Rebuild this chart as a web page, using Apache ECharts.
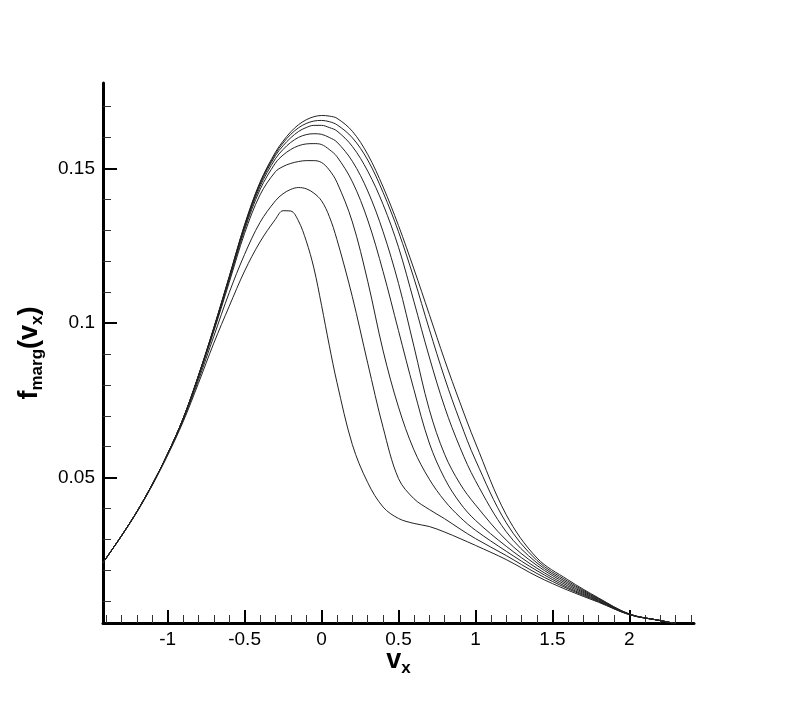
<!DOCTYPE html>
<html>
<head>
<meta charset="utf-8">
<script src="https://cdn.jsdelivr.net/npm/echarts@6/dist/echarts.min.js"></script>
<style>
html,body{margin:0;padding:0;background:#fff;}
#chart{width:789px;height:702px;}
</style>
</head>
<body>
<div id="chart"></div>
<script>
// ---- data ----
const vx = [-1.42, -1.3, -1.2, -1.1, -1.0, -0.9, -0.8, -0.7, -0.6, -0.5, -0.4, -0.3, -0.25, -0.2, -0.15, -0.1, -0.05, 0, 0.05, 0.1, 0.2, 0.3, 0.4, 0.5, 0.6, 0.7, 0.8, 0.9, 1.0, 1.2, 1.4, 1.6, 1.8, 2.0, 2.2, 2.3];

const f1 = [0.0225, 0.0312, 0.0390, 0.0478, 0.0577, 0.0690, 0.0830, 0.0985, 0.1150, 0.1318, 0.1455, 0.1552, 0.1588, 0.1618, 0.1641, 0.1657, 0.1667, 0.1671, 0.1669, 0.1662, 0.1620, 0.1545, 0.1440, 0.1315, 0.1175, 0.1028, 0.0880, 0.0742, 0.0612, 0.0380, 0.0240, 0.0170, 0.0111, 0.0059, 0.0038, 0.0028];
const f2 = [0.0225, 0.0312, 0.0390, 0.0478, 0.0577, 0.0690, 0.0830, 0.0984, 0.1149, 0.1316, 0.1452, 0.1547, 0.1582, 0.1610, 0.1631, 0.1645, 0.1653, 0.1655, 0.1651, 0.1641, 0.1599, 0.1527, 0.1422, 0.1295, 0.1145, 0.0980, 0.0822, 0.0682, 0.0557, 0.0354, 0.0232, 0.0165, 0.0109, 0.0059, 0.0038, 0.0028];
const f3 = [0.0225, 0.0312, 0.0390, 0.0478, 0.0577, 0.0690, 0.0829, 0.0983, 0.1147, 0.1313, 0.1448, 0.1541, 0.1573, 0.1599, 0.1619, 0.1632, 0.1639, 0.1639, 0.1632, 0.1621, 0.1571, 0.1491, 0.1383, 0.1245, 0.1070, 0.0890, 0.0728, 0.0597, 0.0490, 0.0325, 0.0224, 0.0160, 0.0107, 0.0058, 0.0038, 0.0028];
const f4 = [0.0225, 0.0312, 0.0390, 0.0478, 0.0577, 0.0690, 0.0828, 0.0981, 0.1144, 0.1308, 0.1441, 0.1531, 0.1561, 0.1584, 0.1600, 0.1609, 0.1612, 0.1610, 0.1600, 0.1585, 0.1523, 0.1427, 0.1295, 0.1128, 0.0925, 0.0720, 0.0575, 0.0480, 0.0412, 0.0298, 0.0216, 0.0155, 0.0105, 0.0058, 0.0038, 0.0028];
const f5 = [0.0225, 0.0312, 0.0390, 0.0478, 0.0577, 0.0690, 0.0827, 0.0978, 0.1139, 0.1301, 0.1431, 0.1517, 0.1543, 0.1561, 0.1573, 0.1579, 0.1580, 0.1577, 0.1561, 0.1538, 0.1457, 0.1333, 0.1166, 0.0975, 0.0785, 0.0612, 0.0497, 0.0418, 0.0362, 0.0278, 0.0207, 0.0150, 0.0103, 0.0058, 0.0038, 0.0028];
const f6 = [0.0225, 0.0312, 0.0390, 0.0478, 0.0577, 0.0689, 0.0824, 0.0973, 0.1131, 0.1290, 0.1414, 0.1489, 0.1506, 0.1516, 0.1522, 0.1525, 0.1525, 0.1519, 0.1495, 0.1455, 0.1327, 0.1135, 0.0910, 0.0728, 0.0590, 0.0495, 0.0425, 0.0372, 0.0330, 0.0262, 0.0199, 0.0145, 0.0101, 0.0057, 0.0038, 0.0028];
const f7 = [0.0225, 0.0312, 0.0389, 0.0477, 0.0575, 0.0685, 0.0815, 0.0957, 0.1098, 0.1222, 0.1325, 0.1395, 0.1418, 0.1432, 0.1438, 0.1434, 0.1420, 0.1395, 0.1345, 0.1270, 0.1085, 0.0870, 0.0662, 0.0497, 0.0432, 0.0397, 0.0367, 0.0334, 0.0303, 0.0248, 0.0190, 0.0141, 0.0099, 0.0057, 0.0038, 0.0028];
const f8 = [0.0225, 0.0311, 0.0388, 0.0475, 0.0572, 0.0680, 0.0805, 0.0935, 0.1054, 0.1168, 0.1262, 0.1335, 0.1363, 0.1362, 0.1330, 0.1266, 0.1178, 0.1057, 0.0928, 0.0808, 0.0607, 0.0484, 0.0405, 0.0368, 0.0352, 0.0342, 0.0324, 0.0303, 0.0281, 0.0235, 0.0181, 0.0136, 0.0097, 0.0057, 0.0038, 0.0028];

const curves = [f1, f2, f3, f4, f5, f6, f7, f8];

// ---- ticks ----
const xMajor = [-1, -0.5, 0, 0.5, 1, 1.5, 2];
const xMinor = [-1.4, -1.3, -1.2, -1.1, -0.9, -0.8, -0.7, -0.6, -0.4, -0.3, -0.2, -0.1, 0.1, 0.2, 0.3, 0.4, 0.6, 0.7, 0.8, 0.9, 1.1, 1.2, 1.3, 1.4, 1.6, 1.7, 1.8, 1.9, 2.1, 2.2, 2.3, 2.4];
const yMajor = [0.05, 0.1, 0.15];
const yMinor = [0.01, 0.02, 0.03, 0.04, 0.06, 0.07, 0.08, 0.09, 0.11, 0.12, 0.13, 0.14, 0.16, 0.17];
const xLabels = ['-1', '-0.5', '0', '0.5', '1', '1.5', '2'];
const yLabels = ['0.05', '0.1', '0.15'];

const X_MIN = -1.42, X_MAX = 2.42, Y_MIN = 0.003, Y_MAX = 0.1776;
const FONT = 'Liberation Sans, Arial, Helvetica, sans-serif';

const chart = echarts.init(document.getElementById('chart'), null, {renderer: 'canvas'});

function labelFor(values, labels) {
  return function (v) {
    for (let i = 0; i < values.length; i++) {
      if (Math.abs(values[i] - v) < 1e-9) return labels[i];
    }
    return '';
  };
}

const nameRich = {
  b: {fontSize: 27, fontWeight: 'bold', fontFamily: FONT, color: '#000', lineHeight: 32},
  s: {fontSize: 17, fontWeight: 'bold', fontFamily: FONT, color: '#000', lineHeight: 12, verticalAlign: 'bottom'}
};

const option = {
  animation: false,
  backgroundColor: '#fff',
  grid: {left: 103, right: 95, top: 83, bottom: 79, containLabel: false},
  xAxis: [
    {
      type: 'value', min: X_MIN, max: X_MAX, position: 'bottom',
      name: '{b|v}{s|x}', nameLocation: 'middle', nameGap: 22, nameMoveOverlap: false,
      nameTextStyle: {rich: nameRich},
      axisLine: {show: true, onZero: false, lineStyle: {color: '#000', width: 3}},
      axisTick: {show: true, inside: true, length: 13, customValues: xMajor, lineStyle: {color: '#000', width: 2}},
      axisLabel: {show: true, customValues: xMajor, formatter: labelFor(xMajor, xLabels), fontSize: 19, color: '#000', fontFamily: FONT, margin: 7},
      splitLine: {show: false}, minorTick: {show: false}
    },
    {
      type: 'value', min: X_MIN, max: X_MAX, position: 'bottom',
      axisLine: {show: false, onZero: false},
      axisTick: {show: true, inside: true, length: 8, customValues: xMinor, lineStyle: {color: '#333', width: 1}},
      axisLabel: {show: false},
      splitLine: {show: false}
    }
  ],
  yAxis: [
    {
      type: 'value', min: Y_MIN, max: Y_MAX, position: 'left',
      name: '{b|f}{s|marg}{b|(v}{s|x}{b|)}', nameLocation: 'middle', nameGap: 57, nameRotate: 90,
      nameTextStyle: {rich: nameRich},
      axisLine: {show: true, onZero: false, lineStyle: {color: '#000', width: 3}},
      axisTick: {show: true, inside: true, length: 14, customValues: yMajor, lineStyle: {color: '#000', width: 2}},
      axisLabel: {show: true, customValues: yMajor, formatter: labelFor(yMajor, yLabels), fontSize: 19, color: '#000', fontFamily: FONT, margin: 8},
      splitLine: {show: false}
    },
    {
      type: 'value', min: Y_MIN, max: Y_MAX, position: 'left',
      axisLine: {show: false, onZero: false},
      axisTick: {show: true, inside: true, length: 8, customValues: yMinor, lineStyle: {color: '#333', width: 1}},
      axisLabel: {show: false},
      splitLine: {show: false}
    }
  ],
  series: curves.map(function (ys, i) {
    return {
      type: 'line', name: 'c' + (i + 1), xAxisIndex: 0, yAxisIndex: 0,
      data: vx.map(function (x, j) { return [x, ys[j]]; }),
      showSymbol: false, symbol: 'none', smooth: 0.35, clip: true,
      lineStyle: {color: '#222', width: 1},
      emphasis: {disabled: true}
    };
  })
};

chart.setOption(option);
</script>
</body>
</html>
